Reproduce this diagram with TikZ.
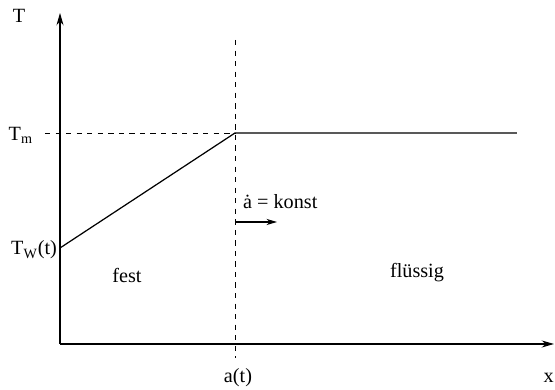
\documentclass[tikz,border=0pt]{standalone}
\usepackage{fontspec}
\setmainfont{Liberation Serif}
\usetikzlibrary{arrows.meta, positioning}
\tikzset{
  axis/.style={line width=0.6pt, -{Stealth[length=7pt, width=4pt]}},
  guide/.style={dashed, line width=0.5pt},
  curve/.style={line width=0.7pt},
  lbl/.style={font=\fontsize{11.5}{14}\selectfont, inner sep=1pt},
}
\begin{document}
\begin{tikzpicture}
\useasboundingbox (0,0) rectangle (11.1,7.8);
% axes
\coordinate (O) at (1.2,0.92);
\coordinate (ytop) at (1.2,7.54);
\coordinate (xend) at (11.08,0.92);
\draw[axis] (O) -- (ytop);
\draw[axis] (O) -- (xend);
% phase front and melting temperature
\coordinate (ftop) at (4.7,7.0);
\coordinate (fbot) at (4.7,0.64);
\coordinate (M) at (4.7,5.14);
\coordinate (Mleft) at (0.9,5.14);
\coordinate (Mright) at (10.34,5.14);
\coordinate (W) at (1.2,2.84);
\draw[guide] (ftop) -- (fbot);
\draw[guide] (Mleft) -- (M);
\draw[curve] (W) -- (M) -- (Mright);
% front velocity
\coordinate (v0) at (4.7,3.36);
\coordinate (v1) at (5.54,3.36);
\draw[line width=0.6pt, -{Stealth[length=6pt, width=3.5pt]}] (v0) -- (v1);
\node[lbl, anchor=west] (vel) at (4.82,3.76) {\.{a} = konst};
% labels
\node[lbl] (T) at (0.38,7.48) {T};
\node[lbl, anchor=east] (Tm) at (0.7,5.1) {T\textsubscript{m}};
\node[lbl, anchor=east] (Tw) at (1.18,2.8) {T\textsubscript{W}(t)};
\node[lbl] (fest) at (2.54,2.3) {fest};
\node[lbl] (fl) at (8.34,2.34) {flüssig};
\node[lbl] (at) at (4.76,0.24) {a(t)};
\node[lbl, anchor=east, inner sep=0pt] (x) at (11.08,0.24) {x};
\end{tikzpicture}
\end{document}
